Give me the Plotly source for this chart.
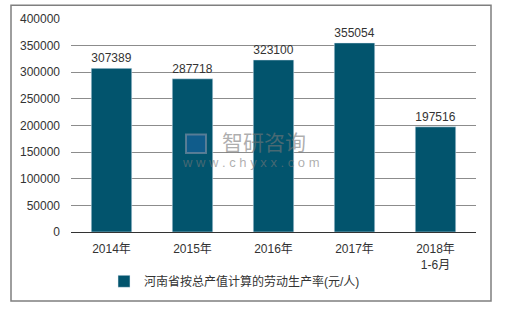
import plotly.graph_objects as go

categories = ["2014年", "2015年", "2016年", "2017年", "2018年<br>1-6月"]
values = [307389, 287718, 323100, 355054, 197516]
series_name = "河南省按总产值计算的劳动生产率(元/人)"
y_ticks = [0, 50000, 100000, 150000, 200000, 250000, 300000, 350000, 400000]

W, H = 506, 312
L, R, T, B = 71, 476, 16, 232
pw, ph = R - L, B - T

def px(x):
    return (x - L) / pw

def py(y):
    return (B - y) / ph

fig = go.Figure()
fig.add_trace(go.Bar(
    x=categories, y=values, name=series_name,
    marker_color="#02546d", width=0.5,
    text=[str(v) for v in values], textposition="outside",
    textfont=dict(size=12, color="#333333"),
    cliponaxis=False,
))

fig.update_layout(
    width=W, height=H,
    margin=dict(l=L, r=W - R, t=T, b=H - B),
    paper_bgcolor="white", plot_bgcolor="white",
    font=dict(family="Liberation Sans, Arial, Noto Sans CJK SC, sans-serif", size=12, color="#333333"),
    showlegend=True,
    legend=dict(orientation="h", x=px(104), xanchor="left", y=py(282), yanchor="middle",
                font=dict(size=12, color="#333333"), itemwidth=30),
    bargap=0.5,
    xaxis=dict(showline=True, linecolor="#333333", linewidth=1, ticks="",
               tickfont=dict(size=12, color="#333333"), ticklabelstandoff=6),
    yaxis=dict(range=[0, 400000], tickvals=y_ticks, ticktext=[str(v) for v in y_ticks],
               showgrid=True, gridcolor="#8c8c8c", gridwidth=1, zeroline=False,
               tickfont=dict(size=12, color="#333333"), ticklabelstandoff=10),
    shapes=[
        dict(type="rect", xref="paper", yref="paper",
             x0=px(11), x1=px(491), y0=py(302), y1=py(2),
             line=dict(color="#7f7f7f", width=1.5), layer="below"),
        dict(type="rect", xref="paper", yref="paper",
             x0=px(186), x1=px(206), y0=py(152), y1=py(133),
             line=dict(color="rgba(120,140,160,0.7)", width=2),
             fillcolor="rgba(30,100,170,0.5)", layer="above"),
    ],
    annotations=[
        dict(text="智研咨询", xref="paper", yref="paper", x=px(264), y=py(141),
             showarrow=False, font=dict(size=21, color="rgba(120,120,120,0.6)")),
        dict(text="w w w . c h y x x . c o m", xref="paper", yref="paper", x=px(251), y=py(171),
             showarrow=False, font=dict(size=13, color="rgba(120,120,120,0.6)")),
    ],
)

fig.write_html("out.html")
